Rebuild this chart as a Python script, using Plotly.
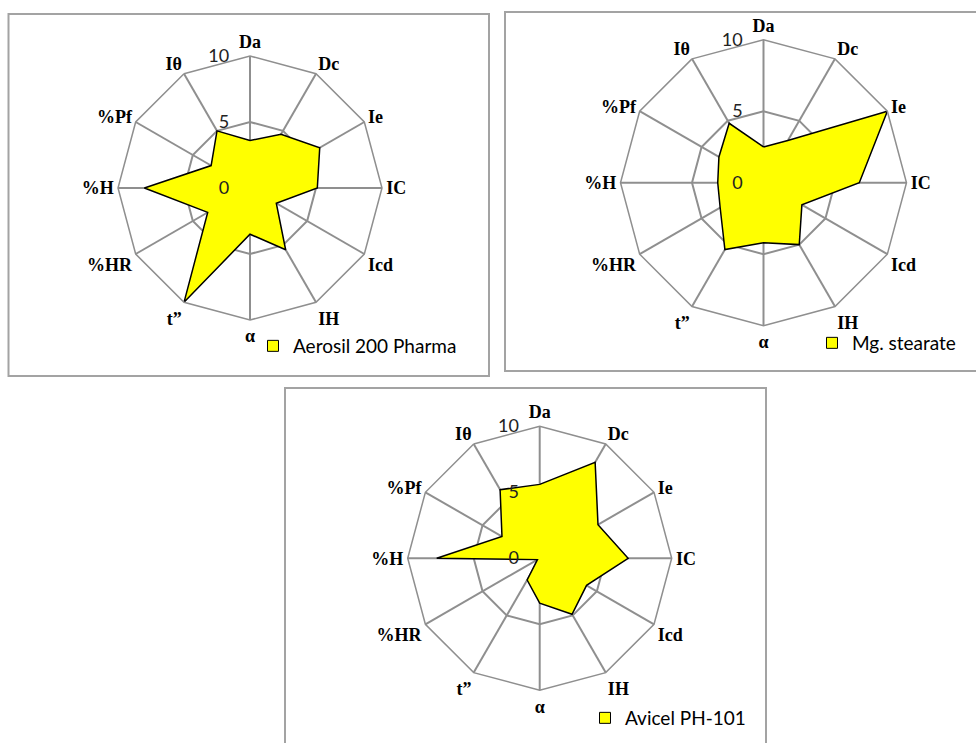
import plotly.graph_objects as go

W, H = 976, 743

categories = ["Da", "Dc", "Ie", "IC", "Icd", "IH", "α", "t”", "%HR", "%H", "%Pf", "Iθ"]
aerosil = [3.6, 4.7, 6.1, 5.1, 2.3, 5.4, 3.5, 10.0, 3.7, 8.0, 3.4, 5.0]
mg_stearate = [2.5, 3.4, 10.0, 6.7, 3.1, 5.0, 4.2, 5.4, 3.5, 3.2, 3.6, 4.8]
avicel = [5.6, 8.4, 5.1, 6.7, 4.1, 4.9, 3.4, 1.9, 0.2, 7.8, 3.3, 6.0]
series_names = ["Aerosil 200 Pharma", "Mg. stearate", "Avicel PH-101"]
radial_ticks = [0, 5, 10]

FILL = "#FFFF00"
GRID = "#8f8f8f"
BOX = "#a3a3a3"

def px_x(v):
    return v / W

def px_y(v):
    return 1 - v / H

# (center x, center y, radius) in pixels for each radar
panels = [(250, 188, 132), (763.5, 182.7, 143), (539.7, 558.3, 132)]
# legend anchor positions (pixels)
legend_pos = [(253, 346), (812, 343), (585, 718)]
# frame boxes (pixels)
boxes = [(8.5, 14, 489, 376), (505, 12, 980, 371), (285, 388, 766, 748)]

fig = go.Figure()
series = [aerosil, mg_stearate, avicel]
layout_polars = {}
for i, (vals, name) in enumerate(zip(series, series_names)):
    sp = "polar" if i == 0 else f"polar{i+1}"
    lg = "legend" if i == 0 else f"legend{i+1}"
    fig.add_trace(go.Scatterpolar(
        r=vals + vals[:1], theta=categories + categories[:1],
        mode="lines", fill="toself", fillcolor=FILL,
        line=dict(color="black", width=1.5),
        name=name, subplot=sp, showlegend=False, hoverinfo="r+theta",
    ))
    fig.add_trace(go.Scatterpolar(
        r=[None], theta=[categories[0]], mode="markers",
        marker=dict(symbol="square", size=11, color=FILL, line=dict(color="black", width=1)),
        name=name, subplot=sp, legend=lg, showlegend=True,
    ))
    cx, cy, rr = panels[i]
    layout_polars[sp] = dict(
        domain=dict(x=[px_x(cx - rr), px_x(cx + rr)], y=[px_y(cy + rr), px_y(cy - rr)]),
        gridshape="linear",
        bgcolor="rgba(0,0,0,0)",
        radialaxis=dict(
            range=[0, 10], tickvals=radial_ticks, showline=False,
            gridcolor=GRID, gridwidth=1.5, angle=90, side="counterclockwise",
            ticks="outside", ticklen=14, tickcolor="rgba(0,0,0,0)", tickangle=90,
            tickfont=dict(family="Lato", size=18, color="#222"),
        ),
        angularaxis=dict(
            rotation=90, direction="clockwise", gridcolor=GRID, gridwidth=1.5,
            linecolor=GRID, linewidth=1.5, ticks="",
            tickfont=dict(family="Liberation Serif", size=18, color="black", weight="bold"),
        ),
    )
    lx, ly = legend_pos[i]
    fig.update_layout({lg: dict(
        x=px_x(lx), y=px_y(ly), xanchor="left", yanchor="middle",
        font=dict(family="Lato", size=19, color="black"), bgcolor="rgba(0,0,0,0)",
    )})

fig.update_layout(**layout_polars)

for (x0, y0, x1, y1) in boxes:
    fig.add_shape(type="rect", xref="paper", yref="paper",
                  x0=px_x(x0), x1=px_x(x1), y0=px_y(y1), y1=px_y(y0),
                  line=dict(color=BOX, width=2), fillcolor="rgba(0,0,0,0)", layer="below")

fig.update_layout(
    width=W, height=H, margin=dict(l=0, r=0, t=0, b=0),
    paper_bgcolor="white", plot_bgcolor="white",
)

fig.write_html("out.html", config={"displayModeBar": False},
               post_script="document.body.style.margin='0';")
